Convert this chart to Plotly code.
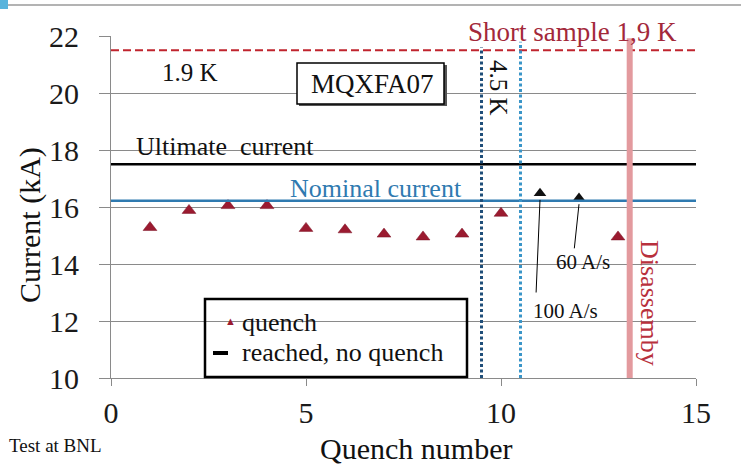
import plotly.graph_objects as go

# ---- data ----
quench_x = [1, 2, 3, 4, 5, 6, 7, 8, 9, 10, 13]
quench_y = [15.28, 15.88, 16.05, 16.05, 15.25, 15.2, 15.05, 14.95, 15.05, 15.78, 14.95]
reached_x = [11, 12]
reached_y = [16.48, 16.32]

short_sample = 21.5
ultimate = 17.5
nominal = 16.22
temp_change_a = 9.5
temp_change_b = 10.5
disassembly_x = 13.3

x_ticks = [0, 5, 10, 15]
y_ticks = [10, 12, 14, 16, 18, 20, 22]

FONT = "Liberation Serif, Times New Roman, serif"
W, H = 741, 466
L, R, T, B = 111, 45, 36, 88
PW, PH = W - L - R, H - T - B


def px(xp, yp):
    """pixel -> paper coords"""
    return (xp - L) / PW, (H - B - yp) / PH


fig = go.Figure()

fig.add_trace(go.Scatter(
    x=quench_x, y=quench_y, mode="markers", showlegend=False,
    marker=dict(symbol="triangle-up", size=12, color="#9b1b30",
                line=dict(color="#7a1022", width=0.5)),
))
fig.add_trace(go.Scatter(
    x=reached_x, y=reached_y, mode="markers", showlegend=False,
    marker=dict(symbol="triangle-up", size=11, color="#111111"),
))

shapes = []
# reference lines
shapes.append(dict(type="line", xref="x", yref="y", x0=0, x1=15, y0=short_sample, y1=short_sample,
                   line=dict(color="#c0242e", width=2, dash="8px,4px")))
shapes.append(dict(type="line", xref="x", yref="y", x0=0, x1=15, y0=ultimate, y1=ultimate,
                   line=dict(color="#000000", width=2.5)))
shapes.append(dict(type="line", xref="x", yref="y", x0=0, x1=15, y0=nominal, y1=nominal,
                   line=dict(color="#2f7ab0", width=2.5)))
shapes.append(dict(type="line", xref="x", yref="y", x0=temp_change_a, x1=temp_change_a, y0=10, y1=21.6,
                   line=dict(color="#1f4e79", width=3, dash="3px,2.5px")))
shapes.append(dict(type="line", xref="x", yref="y", x0=temp_change_b, x1=temp_change_b, y0=10, y1=21.8,
                   line=dict(color="#3a95c8", width=3, dash="3px,2.5px")))
shapes.append(dict(type="line", xref="x", yref="y", x0=disassembly_x, x1=disassembly_x, y0=10, y1=21.92,
                   line=dict(color="#e39a9e", width=6)))
# pointer lines for ramp-rate labels
shapes.append(dict(type="line", xref="x", yref="y", x0=10.9, x1=11.0, y0=13.0, y1=16.25,
                   line=dict(color="#000000", width=1)))
shapes.append(dict(type="line", xref="x", yref="y", x0=11.88, x1=12.0, y0=14.55, y1=16.1,
                   line=dict(color="#000000", width=1)))

# MQXFA07 box with shadow
x0, y0 = px(299, 106)
x1, y1 = px(447, 65)
shapes.append(dict(type="rect", xref="paper", yref="paper", x0=x0, x1=x1, y0=y0, y1=y1,
                   line=dict(width=0), fillcolor="#555555", layer="above"))
x0, y0 = px(297, 104)
x1, y1 = px(444, 63)
shapes.append(dict(type="rect", xref="paper", yref="paper", x0=x0, x1=x1, y0=y0, y1=y1,
                   line=dict(color="#000000", width=1.5), fillcolor="white", layer="above"))

# legend box
x0, y0 = px(205, 377)
x1, y1 = px(467, 299)
shapes.append(dict(type="rect", xref="paper", yref="paper", x0=x0, x1=x1, y0=y0, y1=y1,
                   line=dict(color="#000000", width=2.5), fillcolor="rgba(0,0,0,0)", layer="above"))
lx0, ly = px(213, 353)
lx1, _ = px(228, 353)
shapes.append(dict(type="line", xref="paper", yref="paper", x0=lx0, x1=lx1, y0=ly, y1=ly,
                   line=dict(color="#000000", width=4), layer="above"))

# slide frame remnants at top
shapes.append(dict(type="line", xref="paper", yref="paper",
                   x0=-L / PW, x1=(W - L) / PW, y0=(H - B - 5) / PH, y1=(H - B - 5) / PH,
                   line=dict(color="#9a9a9a", width=1.5)))
shapes.append(dict(type="rect", xref="paper", yref="paper",
                   x0=-L / PW, x1=(8 - L) / PW, y0=(H - B - 9) / PH, y1=(H - B) / PH + 0.05,
                   line=dict(width=0), fillcolor="#5ab4dc"))

annotations = []


def note(text, xp, yp, size, color="#111111", angle=0, xanchor="center"):
    xx, yy = px(xp, yp)
    annotations.append(dict(text=text, x=xx, y=yy, xref="paper", yref="paper", showarrow=False,
                            textangle=angle, xanchor=xanchor, yanchor="middle",
                            font=dict(family=FONT, size=size, color=color)))


note("Short sample 1,9 K", 572, 32, 27, "#a3283a")
note("1.9 K", 190, 73, 25)
note("MQXFA07", 372, 84, 27)
note("4.5 K", 499, 88, 25, angle=90)
note("Ultimate  current", 225, 146, 26)
note("Nominal current", 376, 188, 26, "#2f7ab0")
note("60 A/s", 583, 262, 21)
note("100 A/s", 565, 311, 21)
note("Disassemby", 650, 303, 26, "#b8303c", angle=90)
note("▲", 230, 321, 11, "#9b1b30")
note("quench", 240, 322, 26, xanchor="left")
note("reached, no quench", 240, 352, 26, xanchor="left")
note("Test at BNL", 7, 445, 19, xanchor="left")
note("Current (kA)", 30, 225, 30, angle=-90)
note("Quench number", 416, 448, 30)

fig.update_layout(
    width=W, height=H,
    margin=dict(l=L, r=R, t=T, b=B),
    paper_bgcolor="white", plot_bgcolor="white",
    font=dict(family=FONT, color="#1a1a1a"),
    shapes=shapes, annotations=annotations,
    xaxis=dict(range=[0, 15], tickvals=x_ticks, ticktext=[str(v) for v in x_ticks],
               showgrid=False, zeroline=False, showline=True, linecolor="#8a8a8a", linewidth=1,
               ticks="outside", ticklen=7, tickcolor="#8a8a8a", ticklabelstandoff=1,
               tickfont=dict(family=FONT, size=30, color="#1a1a1a")),
    yaxis=dict(range=[10, 22], tickvals=y_ticks, ticktext=[str(v) for v in y_ticks],
               showgrid=True, gridcolor="#8a8a8a", gridwidth=1, zeroline=False,
               showline=True, linecolor="#8a8a8a", linewidth=1,
               ticks="outside", ticklen=11, tickcolor="#8a8a8a", ticklabelstandoff=14,
               tickfont=dict(family=FONT, size=30, color="#1a1a1a")),
)

fig.write_html("out.html")
